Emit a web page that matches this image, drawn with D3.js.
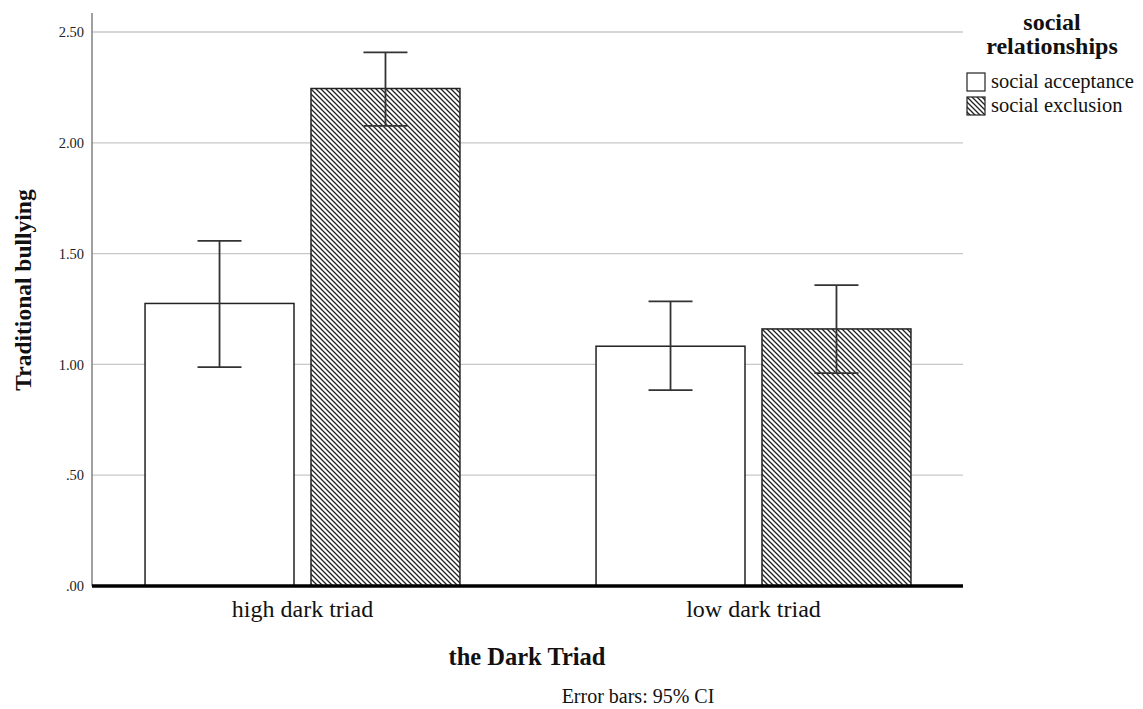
<!DOCTYPE html>
<html><head><meta charset="utf-8">
<script src="https://cdn.jsdelivr.net/npm/d3@7"></script>
<style>body{margin:0;background:#fff}text{font-family:"Liberation Serif","Times New Roman",serif}</style>
</head><body>
<svg id="c" width="1143" height="709"></svg>
<script>
const categories = ["high dark triad", "low dark triad"];
const seriesNames = ["social acceptance", "social exclusion"];
const means = [[1.275, 2.245], [1.082, 1.16]];
const ciLow = [[0.988, 2.076], [0.884, 0.961]];
const ciHigh = [[1.557, 2.408], [1.284, 1.358]];
const yTicks = [0, 0.5, 1.0, 1.5, 2.0, 2.5];

const svg = d3.select("#c");
const defs = svg.append("defs");
const pat = defs.append("pattern").attr("id","hatch").attr("patternUnits","userSpaceOnUse")
  .attr("width",5).attr("height",5);
pat.append("rect").attr("width",5).attr("height",5).attr("fill","#fff");
pat.append("path").attr("d","M0,0L5,5M-1,4L1,6M4,-1L6,1").attr("stroke","#222").attr("stroke-width",1.3);

const L=92,R=963,T=13,B=586;
const y = d3.scaleLinear().domain([0,2.5]).range([B,32]);
const x0 = d3.scaleBand().domain(categories).range([77,979]).paddingInner(0).paddingOuter(0);
const x1 = d3.scaleBand().domain(seriesNames).range([0,x0.bandwidth()]).paddingInner(0.1024).paddingOuter(0.41);

// gridlines
svg.append("g").selectAll("line").data(yTicks.filter(d=>d>0)).join("line")
  .attr("x1",L).attr("x2",R).attr("y1",d=>y(d)).attr("y2",d=>y(d))
  .attr("stroke","#c8c8c8").attr("stroke-width",1.3);

// y axis
const ya = svg.append("g").attr("transform",`translate(${L},0)`)
  .call(d3.axisLeft(y).tickValues(yTicks).tickSize(0).tickPadding(8)
    .tickFormat(d=>d3.format(".2f")(d).replace(/^0/,"")));
ya.select(".domain").remove();
ya.selectAll("text").attr("font-size",14.5).attr("fill","#222").attr("font-family","Liberation Serif");
svg.append("line").attr("x1",L).attr("x2",L).attr("y1",T).attr("y2",B).attr("stroke","#888").attr("stroke-width",1.6);

// bars
const groups = svg.append("g").selectAll("g").data(categories).join("g")
  .attr("transform",d=>`translate(${x0(d)},0)`);
groups.each(function(cat,ci){
  const g=d3.select(this);
  seriesNames.forEach((s,si)=>{
    const bx=x1(s), bw=x1.bandwidth();
    g.append("rect").attr("x",bx).attr("width",bw).attr("y",y(means[ci][si])).attr("height",B-y(means[ci][si]))
      .attr("fill",si===0?"#fff":"url(#hatch)").attr("stroke","#222").attr("stroke-width",1.5);
    const cx=bx+bw/2;
    g.append("line").attr("x1",cx).attr("x2",cx).attr("y1",y(ciLow[ci][si])).attr("y2",y(ciHigh[ci][si])).attr("stroke","#333").attr("stroke-width",1.8);
    [ciLow[ci][si],ciHigh[ci][si]].forEach(v=>{
      g.append("line").attr("x1",cx-22).attr("x2",cx+22).attr("y1",y(v)).attr("y2",y(v)).attr("stroke","#333").attr("stroke-width",1.8);
    });
  });
});

// x axis baseline
svg.append("line").attr("x1",L).attr("x2",R).attr("y1",B).attr("y2",B).attr("stroke","#000").attr("stroke-width",3.5);
const xa = svg.append("g").attr("transform",`translate(0,${B})`)
  .call(d3.axisBottom(x0).tickSize(0));
xa.select(".domain").remove();
xa.selectAll("text").attr("y",31).attr("dy",0).attr("font-size",24).attr("fill","#111").attr("font-family","Liberation Serif");

// titles
svg.append("text").attr("x",527).attr("y",665).attr("text-anchor","middle").attr("font-size",24.5).attr("font-weight","bold").attr("fill","#111").text("the Dark Triad");
svg.append("text").attr("transform","translate(31,290) rotate(-90)").attr("text-anchor","middle").attr("font-size",23.5).attr("font-weight","bold").attr("fill","#111").text("Traditional bullying");
svg.append("text").attr("x",638).attr("y",703).attr("text-anchor","middle").attr("font-size",20).attr("fill","#111").text("Error bars: 95% CI");

// legend
svg.append("text").attr("x",1052).attr("y",30).attr("text-anchor","middle").attr("font-size",24).attr("font-weight","bold").attr("fill","#111").text("social");
svg.append("text").attr("x",1052).attr("y",54).attr("text-anchor","middle").attr("font-size",24).attr("font-weight","bold").attr("fill","#111").text("relationships");
const lg = svg.append("g").selectAll("g").data(seriesNames).join("g").attr("transform",(d,i)=>`translate(967,${73+i*24})`);
lg.append("rect").attr("width",18).attr("height",18).attr("fill",(d,i)=>i===0?"#fff":"url(#hatch)").attr("stroke","#222").attr("stroke-width",1.2);
lg.append("text").attr("x",24).attr("y",15).attr("font-size",20.5).attr("fill","#111").text(d=>d);
</script>
</body></html>
